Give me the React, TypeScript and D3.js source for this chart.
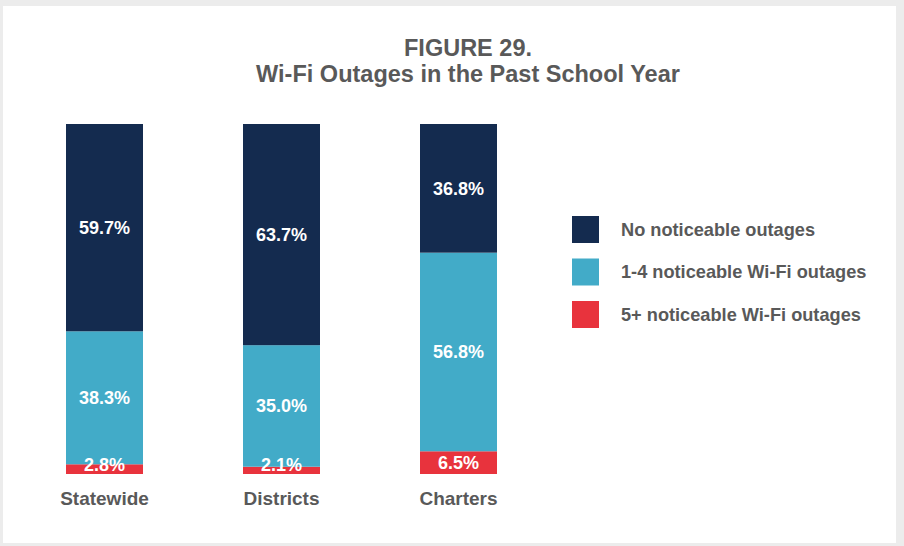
import { useEffect, useRef } from 'react';
import * as d3 from 'd3';

const categories = ['Statewide', 'Districts', 'Charters'];
const seriesNames = ['No noticeable outages', '1-4 noticeable Wi-Fi outages', '5+ noticeable Wi-Fi outages'];
const noOutages = [59.7, 63.7, 36.8];
const fewOutages = [38.3, 35.0, 56.8];
const manyOutages = [2.8, 2.1, 6.5];
const colors = ['#142b4f', '#42abc8', '#e8333d'];

const FONT = '"Liberation Sans", Arial, sans-serif';
const GRAY = '#595959';

export default function App() {
  const ref = useRef<SVGSVGElement | null>(null);

  useEffect(() => {
    if (!ref.current) return;
    const svg = d3.select(ref.current);
    svg.selectAll('*').remove();

    const width = 904;
    const height = 546;

    svg.append('rect').attr('width', width).attr('height', height).attr('fill', '#ececec');
    svg.append('rect').attr('x', 3).attr('y', 6).attr('width', 893).attr('height', 537).attr('fill', '#fff');

    const rows = categories.map((c, i) => ({
      cat: c,
      s0: noOutages[i],
      s1: fewOutages[i],
      s2: manyOutages[i],
    }));
    // bottom to top: 5+, 1-4, none
    const keys = ['s2', 's1', 's0'];
    const colorBy: Record<string, string> = { s0: colors[0], s1: colors[1], s2: colors[2] };
    const labelsBy: Record<string, number[]> = { s0: noOutages, s1: fewOutages, s2: manyOutages };

    const stack = d3.stack<any>().keys(keys).offset(d3.stackOffsetExpand);
    const layers = stack(rows);

    const x = d3.scaleBand().domain(categories).range([66, 497]).paddingInner(0.565).paddingOuter(0);
    const y = d3.scaleLinear().domain([0, 1]).range([474, 124]);

    const g = svg.append('g');

    layers.forEach(layer => {
      g.append('g')
        .selectAll('rect')
        .data(layer)
        .enter()
        .append('rect')
        .attr('x', d => x(d.data.cat)!)
        .attr('width', x.bandwidth())
        .attr('y', d => y(d[1]))
        .attr('height', d => y(d[0]) - y(d[1]))
        .attr('fill', colorBy[layer.key]);
    });

    layers.forEach(layer => {
      g.append('g')
        .selectAll('text')
        .data(layer)
        .enter()
        .append('text')
        .attr('x', d => x(d.data.cat)! + x.bandwidth() / 2)
        .attr('y', d => Math.min((y(d[0]) + y(d[1])) / 2, y(0) - 9))
        .attr('dy', '0.35em')
        .attr('text-anchor', 'middle')
        .attr('font-family', FONT)
        .attr('font-weight', 'bold')
        .attr('font-size', 18)
        .attr('fill', '#fff')
        .text((_, i) => `${labelsBy[layer.key][i].toFixed(1)}%`);
    });

    // category labels
    g.append('g')
      .selectAll('text')
      .data(categories)
      .enter()
      .append('text')
      .attr('x', d => x(d)! + x.bandwidth() / 2)
      .attr('y', 505)
      .attr('text-anchor', 'middle')
      .attr('font-family', FONT)
      .attr('font-weight', 'bold')
      .attr('font-size', 19)
      .attr('fill', GRAY)
      .text(d => d);

    // title
    const title = svg.append('text')
      .attr('text-anchor', 'middle')
      .attr('font-family', FONT)
      .attr('font-weight', 'bold')
      .attr('font-size', 23.5)
      .attr('fill', GRAY);
    title.append('tspan').attr('x', 468).attr('y', 56).text('FIGURE 29.');
    title.append('tspan').attr('x', 468).attr('y', 82).text('Wi-Fi Outages in the Past School Year');

    // legend
    const legend = svg.append('g').attr('transform', 'translate(572,216)');
    const items = legend.selectAll('g')
      .data(seriesNames)
      .enter()
      .append('g')
      .attr('transform', (_, i) => `translate(0,${i * 42.5})`);
    items.append('rect')
      .attr('width', 27)
      .attr('height', 27)
      .attr('fill', (_, i) => colors[i]);
    items.append('text')
      .attr('x', 49)
      .attr('y', 13.5)
      .attr('dy', '0.35em')
      .attr('font-family', FONT)
      .attr('font-weight', 'bold')
      .attr('font-size', 18.2)
      .attr('fill', GRAY)
      .text(d => d);
  }, []);

  return (
    <div style={{ position: 'absolute', left: 0, top: 0 }}>
      <svg ref={ref} width={904} height={546} style={{ display: 'block' }}></svg>
    </div>
  );
}
